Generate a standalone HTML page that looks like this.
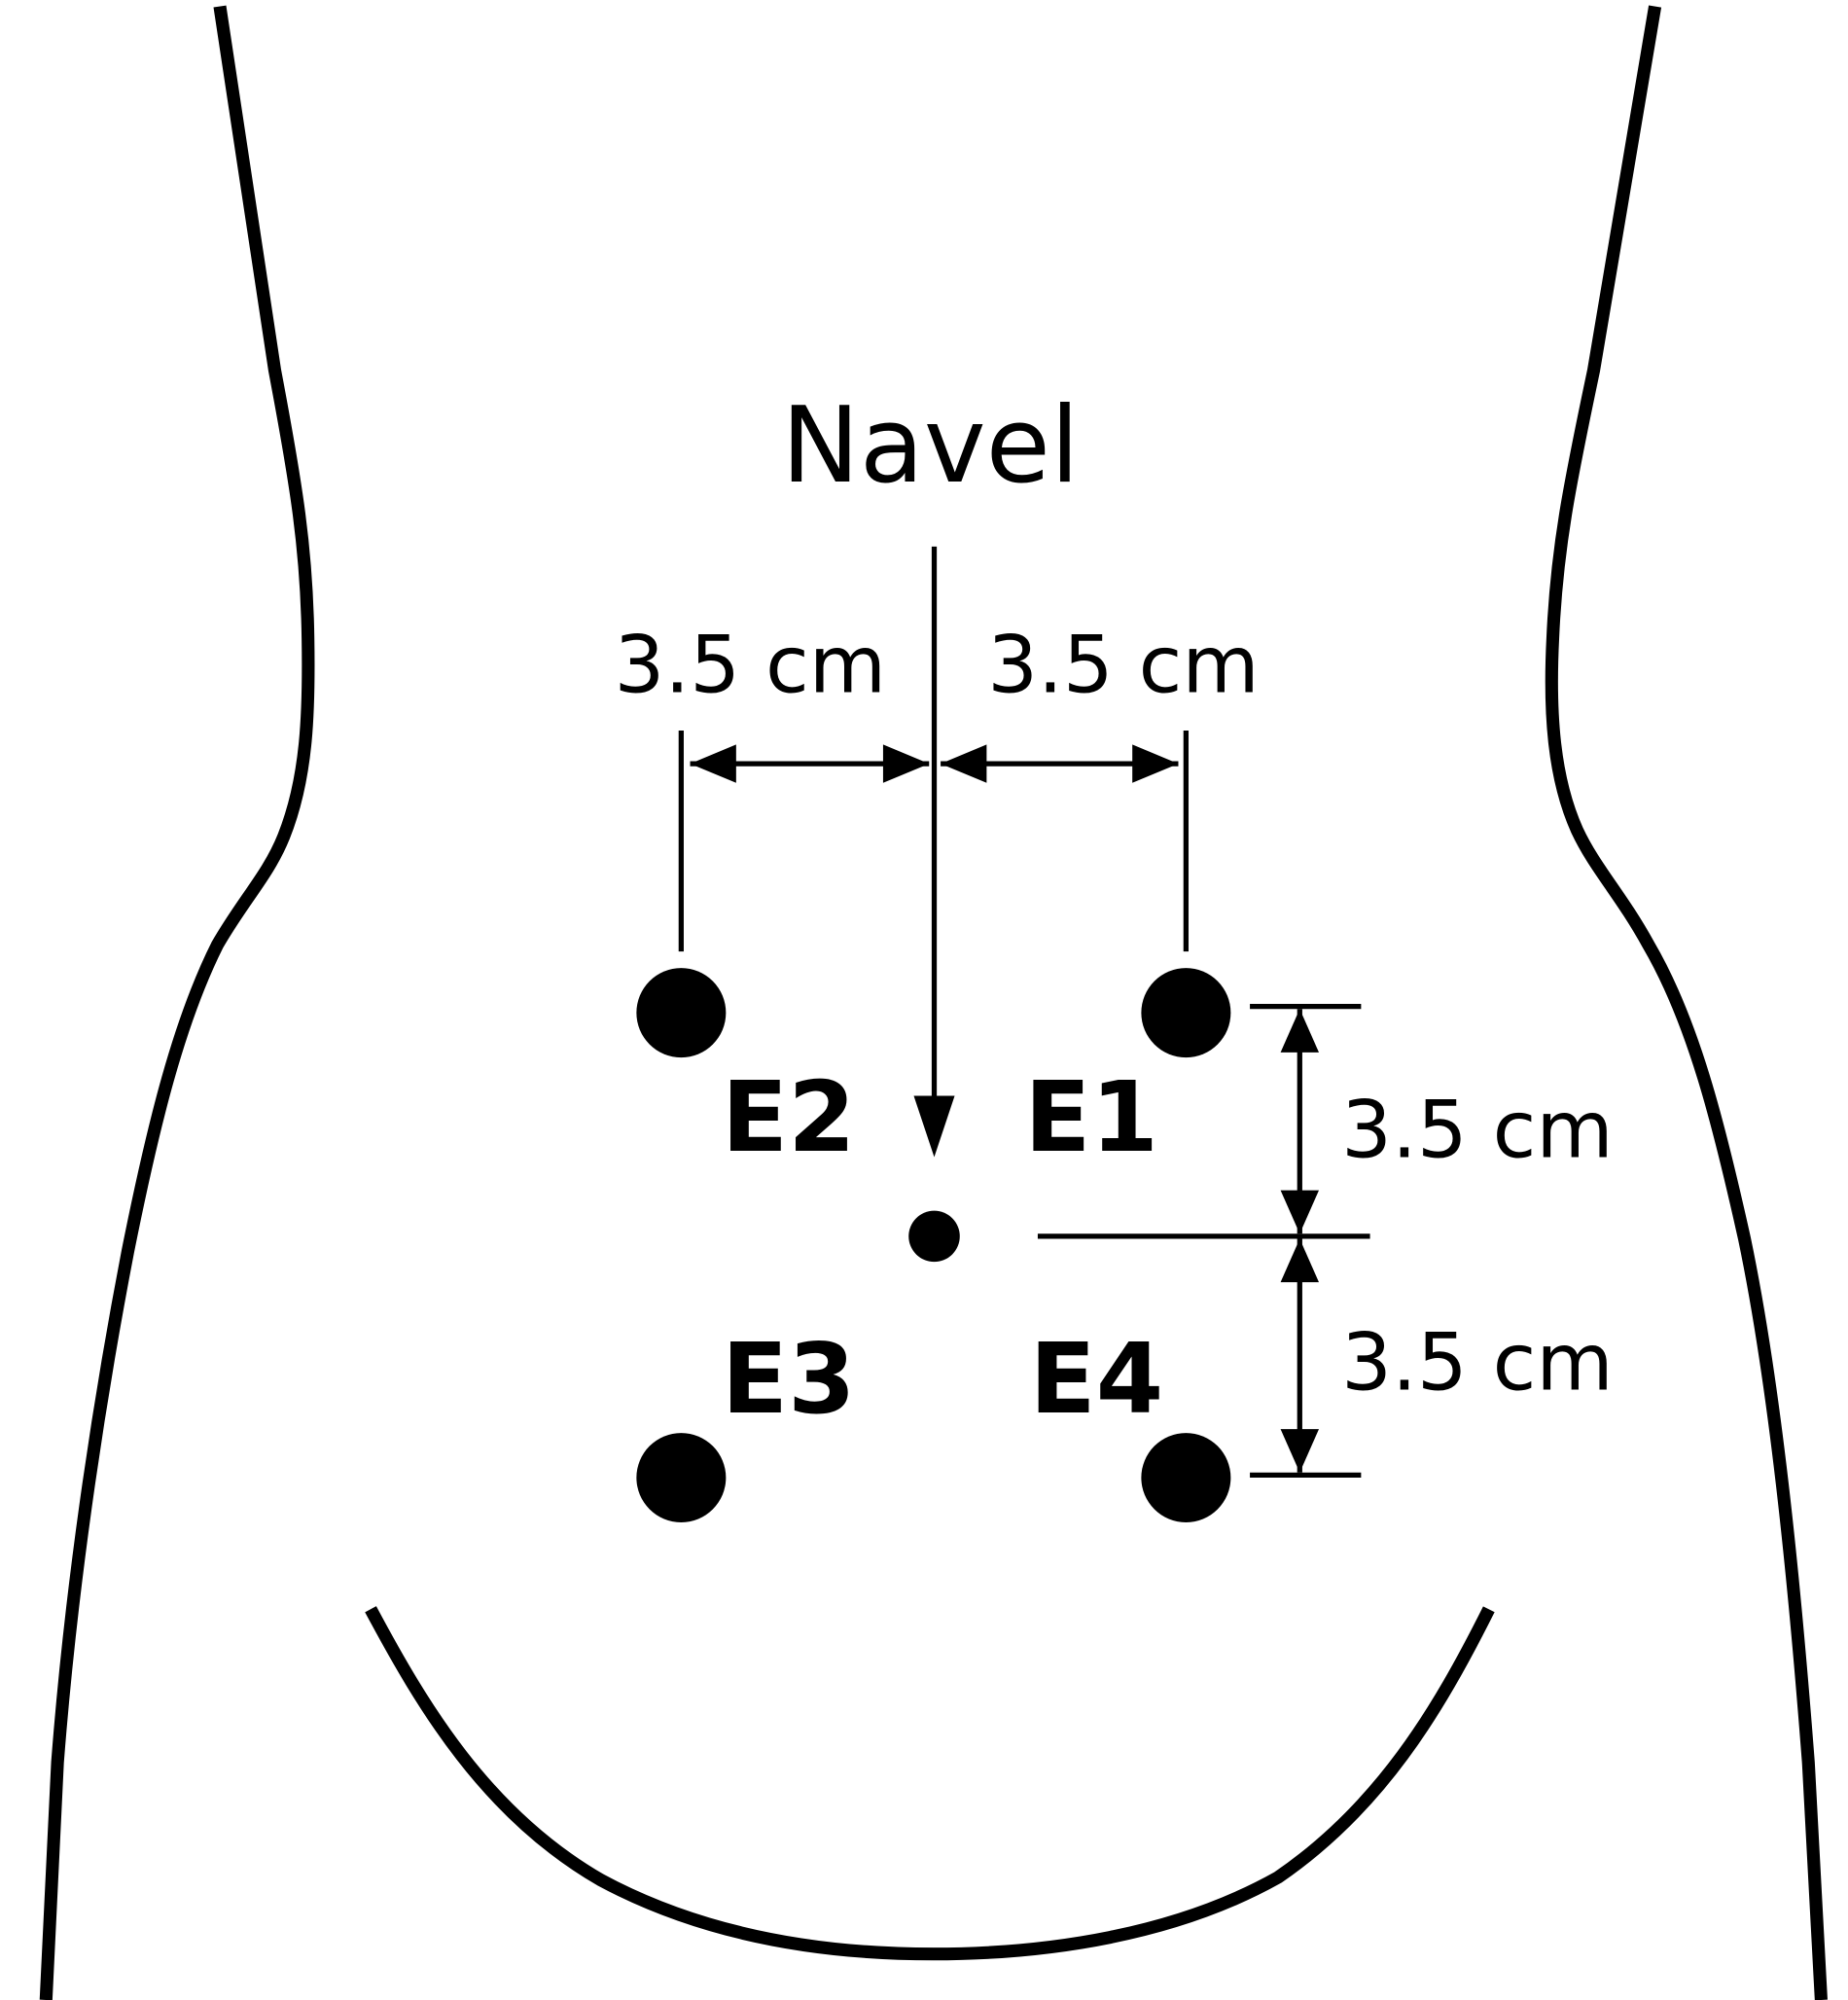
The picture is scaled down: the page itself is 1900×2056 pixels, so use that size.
<!DOCTYPE html>
<html><head><meta charset="utf-8">
<style>
html,body{margin:0;padding:0;background:#fff;}
svg{display:block;}
text{font-family:"DejaVu Sans","Liberation Sans",sans-serif;fill:#000;}
</style></head>
<body>
<svg width="1900" height="2056" viewBox="0 0 1446 1566" preserveAspectRatio="none" xmlns="http://www.w3.org/2000/svg">
<g fill="none" stroke="#000" stroke-width="10" stroke-linecap="butt">
<path d="M172,5 L215,290 C232,380 240,430 241,500 C242,560 240,610 222,655 C210,685 190,705 170,740 C140,800 120,880 100,980 C75,1110 55,1250 45,1380 L36,1566"/>
<path d="M1295,5 L1247,290 C1228,380 1218,430 1215,500 C1212,560 1216,610 1234,650 C1248,680 1268,700 1290,740 C1325,800 1345,880 1365,970 C1390,1090 1405,1250 1415,1380 L1425,1566"/>
<path d="M290,1260 C330,1335 380,1420 470,1472 C550,1515 640,1530 730,1530 C820,1530 920,1515 1000,1470 C1080,1415 1125,1340 1165,1260"/>
</g>
<text x="728" y="377" font-size="82" text-anchor="middle">Navel</text>
<g stroke="#000" stroke-width="4" fill="none">
<line x1="731" y1="428" x2="731" y2="862"/>
<line x1="533" y1="572" x2="533" y2="745"/>
<line x1="928" y1="572" x2="928" y2="745"/>
<line x1="540" y1="598" x2="727" y2="598"/>
<line x1="736" y1="598" x2="922" y2="598"/>
<line x1="978" y1="788" x2="1065" y2="788"/>
<line x1="812" y1="968" x2="1072" y2="968"/>
<line x1="978" y1="1155" x2="1065" y2="1155"/>
<line x1="1017" y1="790" x2="1017" y2="966"/>
<line x1="1017" y1="970" x2="1017" y2="1153"/>
</g>
<g fill="#000">
<path d="M715,858 L747,858 L731,906 z"/>
<path d="M540,598 L576,583 L576,613 z"/>
<path d="M727,598 L691,583 L691,613 z"/>
<path d="M736,598 L772,583 L772,613 z"/>
<path d="M922,598 L886,583 L886,613 z"/>
<path d="M1017,790 L1002,824 L1032,824 z"/>
<path d="M1017,966 L1002,932 L1032,932 z"/>
<path d="M1017,970 L1002,1004 L1032,1004 z"/>
<path d="M1017,1153 L1002,1119 L1032,1119 z"/>
<circle cx="731" cy="968" r="20"/>
<circle cx="533" cy="793" r="35"/>
<circle cx="928" cy="793" r="35"/>
<circle cx="533" cy="1157" r="35"/>
<circle cx="928" cy="1157" r="35"/>
</g>
<g font-size="62">
<text x="587" y="542" text-anchor="middle">3.5 cm</text>
<text x="879" y="542" text-anchor="middle">3.5 cm</text>
<text x="1156" y="906" text-anchor="middle">3.5 cm</text>
<text x="1156" y="1088" text-anchor="middle">3.5 cm</text>
</g>
<g font-size="76" font-weight="bold">
<text x="617" y="901" text-anchor="middle">E2</text>
<text x="854" y="901" text-anchor="middle">E1</text>
<text x="617" y="1106" text-anchor="middle">E3</text>
<text x="858" y="1106" text-anchor="middle">E4</text>
</g>
</svg>
</body></html>
